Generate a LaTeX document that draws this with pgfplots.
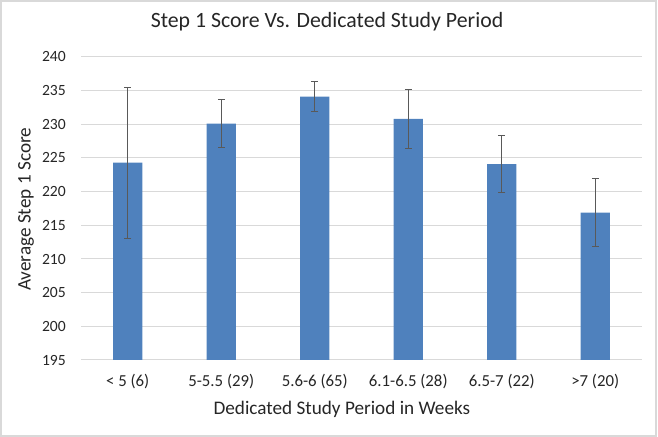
\documentclass[border=0pt]{standalone}
\usepackage{pgfplots}
\pgfplotsset{compat=1.18}
\usepackage{fontspec}
\setmainfont{Carlito}
\definecolor{barblue}{HTML}{4F81BD}
\definecolor{gridgray}{HTML}{D9D9D9}
\definecolor{errgray}{HTML}{595959}
\definecolor{txt}{HTML}{262626}
\begin{document}
\begin{tikzpicture}[x=1bp,y=1bp]
\useasboundingbox (0,0) rectangle (658,437);
\draw[gridgray, line width=1.2bp] (1,1) rectangle (656,436);
\begin{axis}[
  at={(81bp,77bp)}, anchor=south west,
  scale only axis, width=561bp, height=303bp,
  xmin=-0.5, xmax=5.5, ymin=195, ymax=240,
  ytick={195,200,...,240},
  xtick={0,1,2,3,4,5},
  xticklabels={{< 5 (6)},{5-5.5 (29)},{5.6-6 (65)},{6.1-6.5 (28)},{6.5-7 (22)},{>7 (20)}},
  major tick length=0pt,
  axis line style={draw=none},
  ymajorgrids, grid style={gridgray, line width=1bp},
  /pgf/number format/assume math mode=true,
  xticklabel style={anchor=base, yshift=-26.7bp, inner sep=0pt, font=\fontsize{16.8bp}{20bp}\selectfont, text=txt},
  yticklabel style={anchor=east, xshift=-15bp, inner sep=0pt, font=\fontsize{15.6bp}{19bp}\selectfont, text=txt},
  title={Step 1 Score Vs. Dedicated Study Period},
  title style={at={(axis description cs:0.4385,1)}, anchor=base, yshift=23.7bp, inner sep=0pt,
    font=\fontsize{21.8bp}{26bp}\selectfont, text=txt},
  xlabel={Dedicated Study Period in Weeks},
  xlabel style={at={(axis description cs:0.465,0)}, anchor=base, yshift=-55bp, inner sep=0pt,
    font=\fontsize{19.2bp}{23bp}\selectfont, text=txt},
  ylabel={Average Step 1 Score},
  ylabel style={at={(axis description cs:-0.098,0.497)}, anchor=center, inner sep=0pt,
    font=\fontsize{19.2bp}{23bp}\selectfont, text=txt},
  ybar, bar width=0.314,
  clip=true,
]
\addplot[fill=barblue, draw=none,
  error bars/.cd, y dir=both, y explicit,
  error bar style={errgray, line width=1.1bp},
  error mark options={errgray, rotate=90, mark size=3.5bp, line width=1.1bp}]
  coordinates {
  (0,224.3) +- (0,11.2)
  (1,230.1) +- (0,3.6)
  (2,234.1) +- (0,2.2)
  (3,230.8) +- (0,4.4)
  (4,224.1) +- (0,4.2)
  (5,216.9) +- (0,5.0)
};
\end{axis}
\end{tikzpicture}
\end{document}
